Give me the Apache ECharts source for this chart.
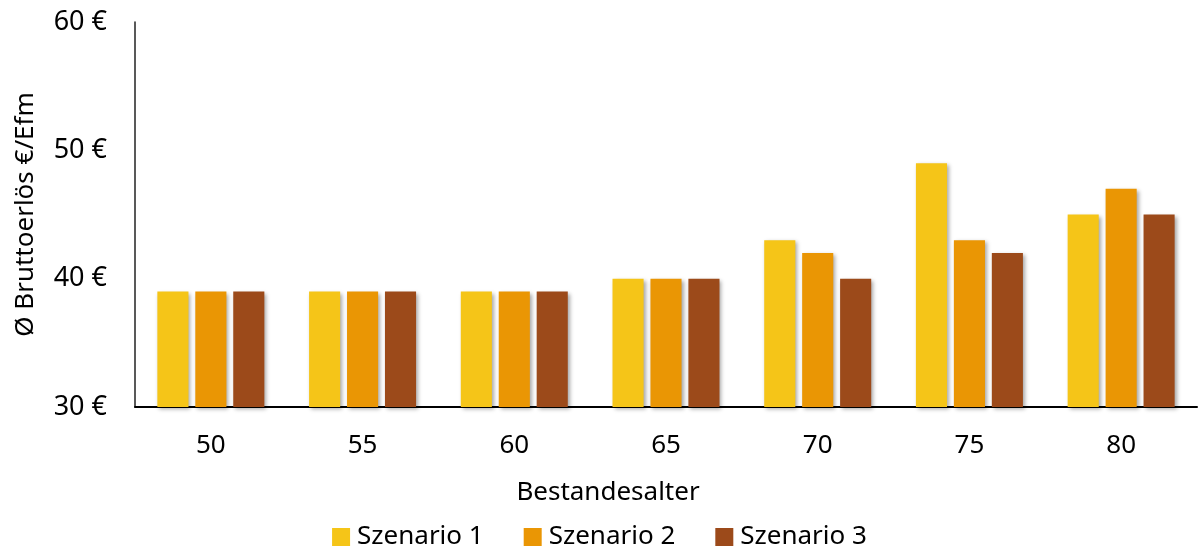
<!DOCTYPE html>
<html>
<head>
<meta charset="utf-8">
<script src="https://cdn.jsdelivr.net/npm/echarts@6/dist/echarts.min.js"></script>
<style>
  html, body { margin: 0; padding: 0; background: #fff; }
  #chart { width: 1199px; height: 548px; }
</style>
</head>
<body>
<div id="chart"></div>
<script>
// Bestandesalter (stand age) categories
const categories = ['50', '55', '60', '65', '70', '75', '80'];
// Average gross revenue per harvested m³ for each scenario
const szenario1 = [39, 39, 39, 40, 43, 49, 45];
const szenario2 = [39, 39, 39, 40, 42, 43, 47];
const szenario3 = [39, 39, 39, 40, 40, 42, 45];
const seriesNames = ['Szenario 1', 'Szenario 2', 'Szenario 3'];
const seriesColors = ['#F5C518', '#EA9604', '#9C4A1A'];

const FONT = 'Noto Sans';
const chart = echarts.init(document.getElementById('chart'));

function bar(name, data, color) {
  return {
    name: name,
    type: 'bar',
    data: data,
    barWidth: '20.5%',
    barGap: '22%',
    itemStyle: {
      color: color,
      shadowColor: 'rgba(0,0,0,0.35)',
      shadowBlur: 4,
      shadowOffsetX: 2,
      shadowOffsetY: 2
    }
  };
}

chart.setOption({
  animation: false,
  textStyle: { fontFamily: FONT },
  grid: { left: 135, right: 2, top: 22, bottom: 141, containLabel: false },
  legend: {
    left: 'center',
    top: 519,
    itemWidth: 18,
    itemHeight: 18,
    itemGap: 40,
    icon: 'rect',
    textStyle: { fontFamily: FONT, fontSize: 26, color: '#000', padding: [0, 0, 0, 2] },
    data: seriesNames
  },
  xAxis: {
    type: 'category',
    data: categories,
    axisLine: { lineStyle: { color: '#000', width: 2 } },
    axisTick: { show: false },
    axisLabel: { fontSize: 26, color: '#000', margin: 26, fontFamily: FONT }
  },
  yAxis: {
    type: 'value',
    min: 30,
    max: 60,
    interval: 10,
    name: 'Ø Bruttoerlös €/Efm',
    nameLocation: 'middle',
    nameGap: 96,
    nameTextStyle: { fontSize: 26, color: '#000', fontFamily: FONT },
    axisLine: { show: true, lineStyle: { color: '#222', width: 1.5 } },
    axisTick: { show: false },
    splitLine: { show: false },
    axisLabel: {
      fontSize: 27, color: '#000', margin: 28, fontFamily: FONT,
      formatter: v => v + ' €'
    }
  },
  graphic: [{
    type: 'text',
    x: 608,
    y: 493,
    style: {
      text: 'Bestandesalter',
      fontSize: 26,
      fill: '#000',
      fontFamily: FONT,
      textAlign: 'center',
      textVerticalAlign: 'middle'
    }
  }],
  series: [
    bar(seriesNames[0], szenario1, seriesColors[0]),
    bar(seriesNames[1], szenario2, seriesColors[1]),
    bar(seriesNames[2], szenario3, seriesColors[2])
  ]
});
</script>
</body>
</html>
